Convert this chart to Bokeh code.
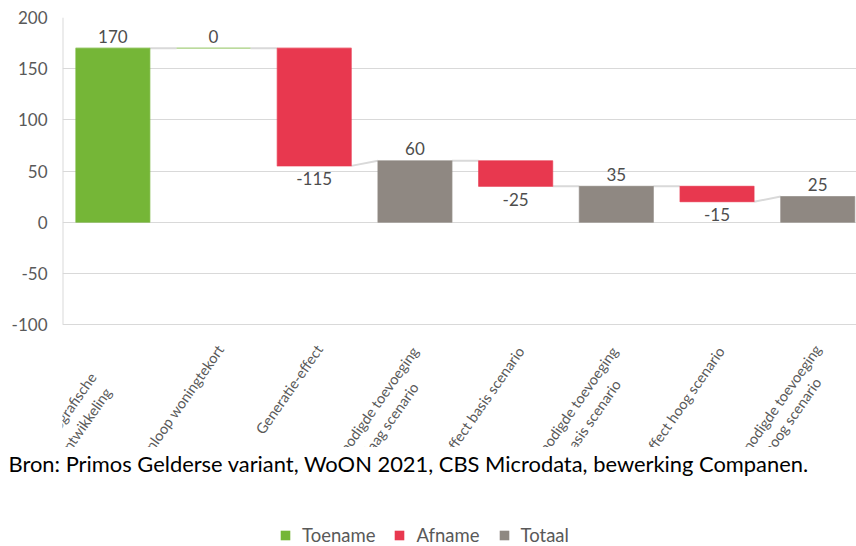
from bokeh.plotting import figure
from bokeh.models import (ColumnDataSource, Range1d, FixedTicker, LabelSet, Title,
                          Legend, LegendItem, CDSView, GroupFilter)
from bokeh.layouts import column
from bokeh.embed import file_html
from bokeh.resources import INLINE
from bokeh.core.properties import value

# ---- data -------------------------------------------------------------
categories = [
    "Demografische\nontwikkeling",
    "Inloop woningtekort",
    "Generatie-effect",
    "Benodigde toevoeging\nlaag scenario",
    "Generatie-effect basis scenario",
    "Benodigde toevoeging\nbasis scenario",
    "Generatie-effect hoog scenario",
    "Benodigde toevoeging\nhoog scenario",
]
values = [170, 0, -115, 60, -25, 35, -15, 25]
kinds = ["Toename", "Toename", "Afname", "Totaal", "Afname", "Totaal", "Afname", "Totaal"]
y_ticks = [-100, -50, 0, 50, 100, 150, 200]

# ---- style ------------------------------------------------------------
FONT = "Lato"
COLORS = {"Toename": "#75B637", "Afname": "#E8384F", "Totaal": "#8F8882"}
TEXT_GREY = "#595959"
GRID_GREY = "#D9D9D9"
BAR_W = 0.735
LEFT, PLOT_TOP, AXIS_BOTTOM, CANVAS_H = 62, 17, 324, 447   # chart panel layout, px

# ---- waterfall geometry -------------------------------------------------
level = 0
bottoms, tops, starts, ends = [], [], [], []
for v, k in zip(values, kinds):
    if k == "Totaal":
        b, t, s, e = 0, v, v, v
        level = v
    else:
        s = level
        level = level + v
        e = level
        b, t = min(s, e), max(s, e)
    bottoms.append(b); tops.append(t); starts.append(s); ends.append(e)

xs = list(range(len(values)))
bars = ColumnDataSource(dict(
    left=[x - BAR_W / 2 for x in xs], right=[x + BAR_W / 2 for x in xs],
    top=tops, bottom=bottoms, color=[COLORS[k] for k in kinds], kind=kinds,
))

# the frame runs down to the canvas edge so the rotated category labels
# can live inside it (and get cut off by the panel's bottom edge)
y_lo, y_hi = y_ticks[0], y_ticks[-1]
px_per_unit = (AXIS_BOTTOM - PLOT_TOP) / (y_hi - y_lo)
y_floor = y_lo - (CANVAS_H - AXIS_BOTTOM) / px_per_unit

p = figure(width=856, height=CANVAS_H, output_backend="svg", toolbar_location=None,
           x_range=Range1d(-0.5, 7.385), y_range=Range1d(y_floor, y_hi),
           x_axis_type=None,
           min_border_left=LEFT, min_border_right=0, min_border_top=PLOT_TOP,
           min_border_bottom=0)
p.outline_line_color = None
p.background_fill_color = "white"
p.border_fill_color = "white"

# vertical axis line over the value range only
p.segment(x0=[-0.5], y0=[y_lo], x1=[-0.5], y1=[y_hi], line_color=GRID_GREY, line_width=2)

# connectors between consecutive bars
p.segment(x0=[x + BAR_W / 2 for x in xs[:-1]], y0=ends[:-1],
          x1=[x + 1 - BAR_W / 2 for x in xs[:-1]], y1=starts[1:],
          line_color=GRID_GREY, line_width=2)

p.quad(left="left", right="right", top="top", bottom="bottom", source=bars,
       fill_color="color", line_color="color", line_width=1.2, line_alpha=0.65)

# value labels: above rising/total bars, below falling bars
up_idx = [i for i, k in enumerate(kinds) if k != "Afname"]
dn_idx = [i for i, k in enumerate(kinds) if k == "Afname"]
p.text(x=[xs[i] for i in up_idx], y=[tops[i] for i in up_idx],
       text=[str(values[i]) for i in up_idx], text_align="center",
       text_baseline="middle", y_offset=-12, text_font=value(FONT),
       text_font_size="17px", text_color="#4D4D4D")
p.text(x=[xs[i] for i in dn_idx], y=[bottoms[i] for i in dn_idx],
       text=[str(values[i]) for i in dn_idx], text_align="center",
       text_baseline="middle", y_offset=13, text_font=value(FONT),
       text_font_size="17px", text_color="#4D4D4D")

# value axis
p.xgrid.visible = False
p.ygrid.grid_line_color = GRID_GREY
p.ygrid.ticker = FixedTicker(ticks=y_ticks)
yax = p.yaxis[0]
yax.ticker = FixedTicker(ticks=y_ticks)
yax.major_label_overrides = {t: str(t) for t in y_ticks}
yax.axis_line_color = None
yax.major_tick_line_color = None
yax.minor_tick_line_color = None
yax.major_label_standoff = 9
yax.major_label_text_font = FONT
yax.major_label_text_font_size = "17px"
yax.major_label_text_color = TEXT_GREY

# rotated category labels, one entry per text line; offsets give the pixel
# position of each line's end relative to the category tick on the -100 line
line_ends = [
    [(-27, -45), (-12, -60)],
    [(0, -17)],
    [(-2, -17)],
    [(-7, -19), (-7, -55)],
    [(-2, -19)],
    [(-9, -19), (-6, -52)],
    [(-3, -19)],
    [(-7, -17), (-7, -50)],
]
lx, ly, lt, ox, oy = [], [], [], [], []
for i, (cat, ends_px) in enumerate(zip(categories, line_ends)):
    for line, (dx, dy) in zip(cat.split("\n"), ends_px):
        lx.append(i); ly.append(y_lo); lt.append(line); ox.append(dx); oy.append(dy)
cat_src = ColumnDataSource(dict(x=lx, y=ly, text=lt, ox=ox, oy=oy))
p.add_layout(LabelSet(x="x", y="y", text="text", x_offset="ox", y_offset="oy",
                      source=cat_src, angle=55, angle_units="deg",
                      text_align="right", text_baseline="top",
                      text_font=value(FONT), text_font_size="14.5px",
                      text_color=TEXT_GREY))

# ---- footer: source note and legend ------------------------------------
# its frame lines up with the chart frame above, so x is measured from LEFT
f = figure(width=856, height=99, output_backend="svg", toolbar_location=None,
           x_range=Range1d(0, 856 - LEFT), y_range=Range1d(0, 99),
           x_axis_type=None, y_axis_type=None,
           min_border_left=LEFT, min_border_right=0, min_border_top=0,
           min_border_bottom=0)
f.outline_line_color = None
f.grid.visible = False
f.title = Title(text="Bron: Primos Gelderse variant, WoON 2021, CBS Microdata, bewerking Companen.",
                align="left", offset=8 - LEFT, standoff=0,
                text_font=FONT, text_font_size="21.9px", text_font_style="normal",
                text_color="#000000")

# legend swatches come from hidden proxies of the bar glyphs
items = []
for k in ["Toename", "Afname", "Totaal"]:
    r = f.quad(left="left", right="right", top="top", bottom="bottom", source=bars,
               view=CDSView(filter=GroupFilter(column_name="kind", group=k)),
               fill_color=COLORS[k], line_color=None, visible=False)
    items.append(LegendItem(label=k, renderers=[r]))
leg = Legend(items=items, orientation="horizontal", location=(279 - LEFT, 0),
             glyph_width=12, glyph_height=12, label_standoff=11, spacing=18,
             label_text_font=FONT, label_text_font_size="18.5px",
             label_text_color=TEXT_GREY, label_height=18,
             border_line_color=None, background_fill_alpha=0,
             margin=0, padding=0)
f.add_layout(leg)

layout = column(p, f, spacing=0)
open("out.html", "w").write(file_html(layout, INLINE))
